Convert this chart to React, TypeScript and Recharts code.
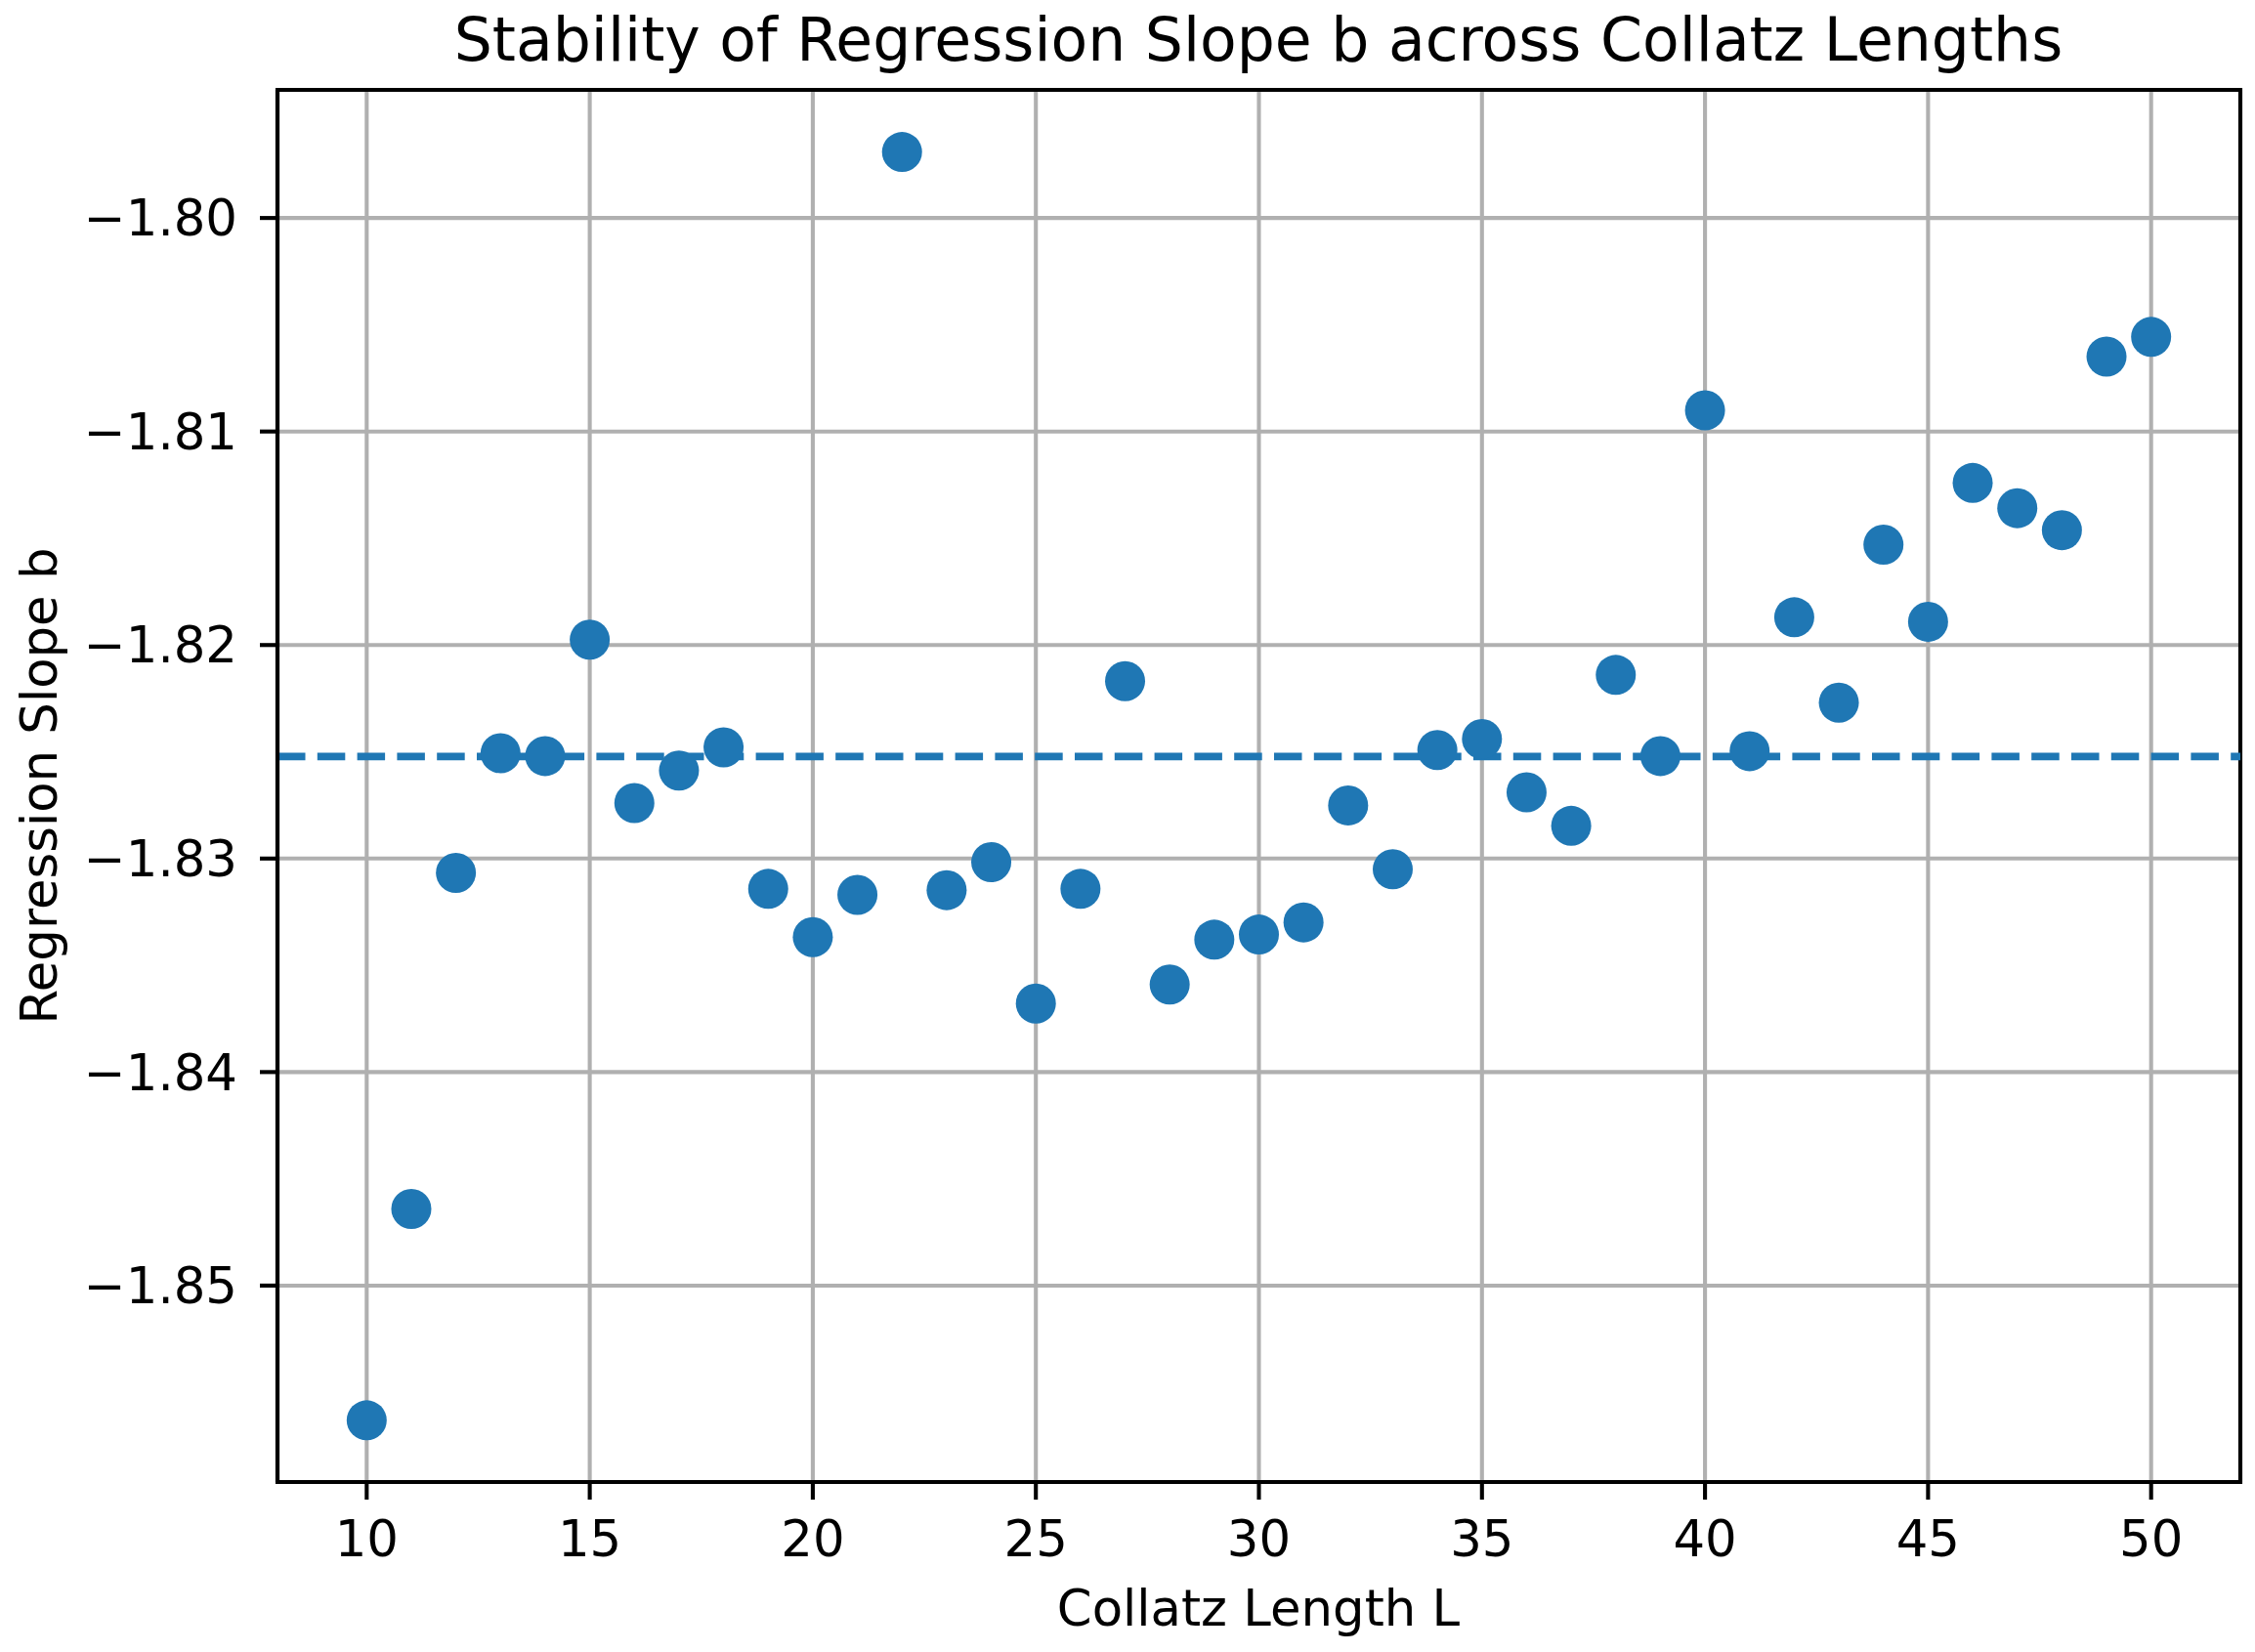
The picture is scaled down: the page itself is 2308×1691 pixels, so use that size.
import {
  CartesianGrid,
  ReferenceArea,
  ReferenceLine,
  Scatter,
  ScatterChart,
  XAxis,
  YAxis
} from "recharts";

// Collatz length L and the fitted regression slope b for each length
const lengths = [
  10, 11, 12, 13, 14, 15, 16, 17, 18, 19, 20, 21, 22, 23, 24, 25, 26, 27, 28, 29,
  30, 31, 32, 33, 34, 35, 36, 37, 38, 39, 40, 41, 42, 43, 44, 45, 46, 47, 48, 49, 50
];
const slopes = [
  -1.85631, -1.84641, -1.83067, -1.82507, -1.8252, -1.81975, -1.8274, -1.82588,
  -1.82479, -1.83142, -1.83368, -1.8317, -1.79691, -1.83148, -1.83017, -1.83679,
  -1.83142, -1.82169, -1.8359, -1.8338, -1.83356, -1.83299, -1.82751, -1.8305,
  -1.82492, -1.8244, -1.8269, -1.82847, -1.8214, -1.8252, -1.80901, -1.82497,
  -1.8187, -1.8227, -1.8153, -1.81891, -1.81241, -1.81359, -1.81462, -1.80649,
  -1.80557
];
const meanSlope = -1.82522;

const xTicks = [10, 15, 20, 25, 30, 35, 40, 45, 50];
const yTicks = [-1.85, -1.84, -1.83, -1.82, -1.81, -1.8];
const xDomain: [number, number] = [8, 52];
const yDomain: [number, number] = [-1.8592, -1.794];

const points = lengths.map((x, i) => ({ x, y: slopes[i] }));

const BLUE = "#1f77b4";
const FONT = "DejaVu Sans";
const TICK_FONT = 51.3;

function Dot(props: any) {
  if (props.cx == null || props.cy == null) return null;
  return <circle cx={props.cx} cy={props.cy} r={20.5} fill={BLUE} />;
}

const fmtY = (v: number) => v.toFixed(2).replace("-", "\u2212");

export default function App() {
  return (
    <div style={{ position: "absolute", left: 0, top: 0, background: "#fff" }}>
      <ScatterChart
        width={2308}
        height={1691}
        margin={{ top: 92, right: 15, bottom: 74, left: 0 }}
      >
        <CartesianGrid stroke="#b0b0b0" strokeWidth={4.1} />
        <XAxis
          type="number"
          dataKey="x"
          domain={xDomain}
          ticks={xTicks}
          allowDataOverflow
          height={100}
          tickSize={18}
          tickMargin={21.6}
          axisLine={{ stroke: "#000", strokeWidth: 4.1 }}
          tickLine={{ stroke: "#000", strokeWidth: 4.1 }}
          tick={{ fill: "#000", fontSize: TICK_FONT, fontFamily: FONT }}
        />
        <YAxis
          type="number"
          dataKey="y"
          domain={yDomain}
          ticks={yTicks}
          allowDataOverflow
          width={284}
          tickSize={18}
          tickMargin={23}
          tickFormatter={fmtY}
          axisLine={{ stroke: "#000", strokeWidth: 4.1 }}
          tickLine={{ stroke: "#000", strokeWidth: 4.1 }}
          tick={{ fill: "#000", fontSize: TICK_FONT, fontFamily: FONT }}
        />
        <ReferenceLine
          y={meanSlope}
          stroke={BLUE}
          strokeWidth={7.7}
          strokeDasharray="28.5 12.3"
        />
        <Scatter data={points} shape={Dot} isAnimationActive={false} />
        <ReferenceArea
          x1={xDomain[0]}
          x2={xDomain[1]}
          y1={yDomain[0]}
          y2={yDomain[1]}
          fill="none"
          fillOpacity={0}
          stroke="#000"
          strokeWidth={4.1}
        />
        <text
          x={1288}
          y={62}
          textAnchor="middle"
          fontSize={61.6}
          fontFamily={FONT}
          fill="#000"
        >
          Stability of Regression Slope b across Collatz Lengths
        </text>
        <text
          x={1288}
          y={1664}
          textAnchor="middle"
          fontSize={TICK_FONT}
          fontFamily={FONT}
          fill="#000"
        >
          Collatz Length L
        </text>
        <text
          x={58}
          y={804.5}
          transform="rotate(-90 58 804.5)"
          textAnchor="middle"
          fontSize={TICK_FONT}
          fontFamily={FONT}
          fill="#000"
        >
          Regression Slope b
        </text>
      </ScatterChart>
    </div>
  );
}
